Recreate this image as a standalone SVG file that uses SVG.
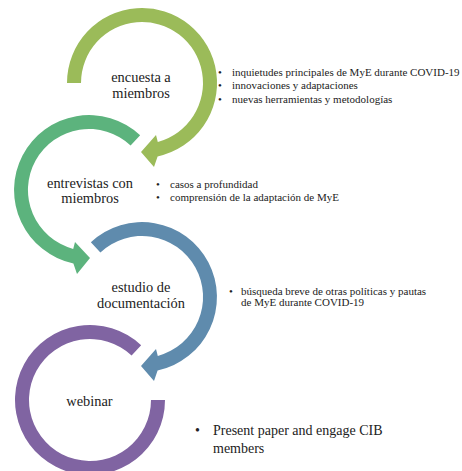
<svg xmlns="http://www.w3.org/2000/svg" width="462" height="471" viewBox="0 0 462 471">
<style>
.lbl{font-family:"Liberation Serif","Times New Roman",serif;font-size:14.4px;fill:#222;text-anchor:middle}
.sm{font-family:"Liberation Serif","Times New Roman",serif;font-size:11px;fill:#222}
.big{font-family:"Liberation Serif","Times New Roman",serif;font-size:14px;fill:#222}
</style>
<rect width="462" height="471" fill="#fff"/>
<g id="connectors">
<path id="arc-encuesta" fill="#9BBB59" d="M67,83 A75,75 0 1 1 157.6,156.4 L154,167 L141,152 L156,135 L157.8,141.9 A61,61 0 1 0 81,83 Z"/>
<path id="arc-entrevistas" fill="#5CB37D" d="M140.15,135.15 A75,75 0 1 0 73.4,263.4 L77,274 L90,258 L75,242 L73.2,248.9 A61,61 0 1 1 130.6,145.4 Z"/>
<path id="arc-estudio" fill="#5F8BAD" d="M90.85,242.15 A75,75 0 1 1 157.6,370.4 L154,381 L141,366 L156,349 L157.8,355.9 A61,61 0 1 0 100.4,252.4 Z"/>
<path id="arc-webinar" fill="#8064A2" d="M141.15,345.15 A75,75 0 1 0 165,400 L151,400 A61,61 0 1 1 131.6,355.4 Z"/>
</g>
<g id="node-encuesta">
<text class="lbl" x="141" y="82">encuesta a</text>
<text class="lbl" x="141" y="97.5">miembros</text>
<text class="sm" x="218" y="75.5">•</text>
<text class="sm" x="232" y="75.5">inquietudes principales de MyE durante COVID-19</text>
<text class="sm" x="218" y="89">•</text>
<text class="sm" x="232" y="89">innovaciones y adaptaciones</text>
<text class="sm" x="218" y="102.5">•</text>
<text class="sm" x="232" y="102.5">nuevas herramientas y metodologías</text>
</g>
<g id="node-entrevistas">
<text class="lbl" x="90" y="187.5">entrevistas con</text>
<text class="lbl" x="90" y="203">miembros</text>
<text class="sm" x="156" y="188">•</text>
<text class="sm" x="170" y="188">casos a profundidad</text>
<text class="sm" x="156" y="201">•</text>
<text class="sm" x="170" y="201">comprensión de la adaptación de MyE</text>
</g>
<g id="node-estudio">
<text class="lbl" x="141" y="292">estudio de</text>
<text class="lbl" x="141" y="307.5">documentación</text>
<text class="sm" x="229" y="295">•</text>
<text class="sm" x="241" y="295">búsqueda breve de otras políticas y pautas</text>
<text class="sm" x="241" y="305.5">de MyE durante COVID-19</text>
</g>
<g id="node-webinar">
<text class="lbl" x="89.5" y="405.5">webinar</text>
<text class="big" x="195" y="435">•</text>
<text class="big" x="213" y="435">Present paper and engage CIB</text>
<text class="big" x="213" y="453">members</text>
</g>
</svg>
